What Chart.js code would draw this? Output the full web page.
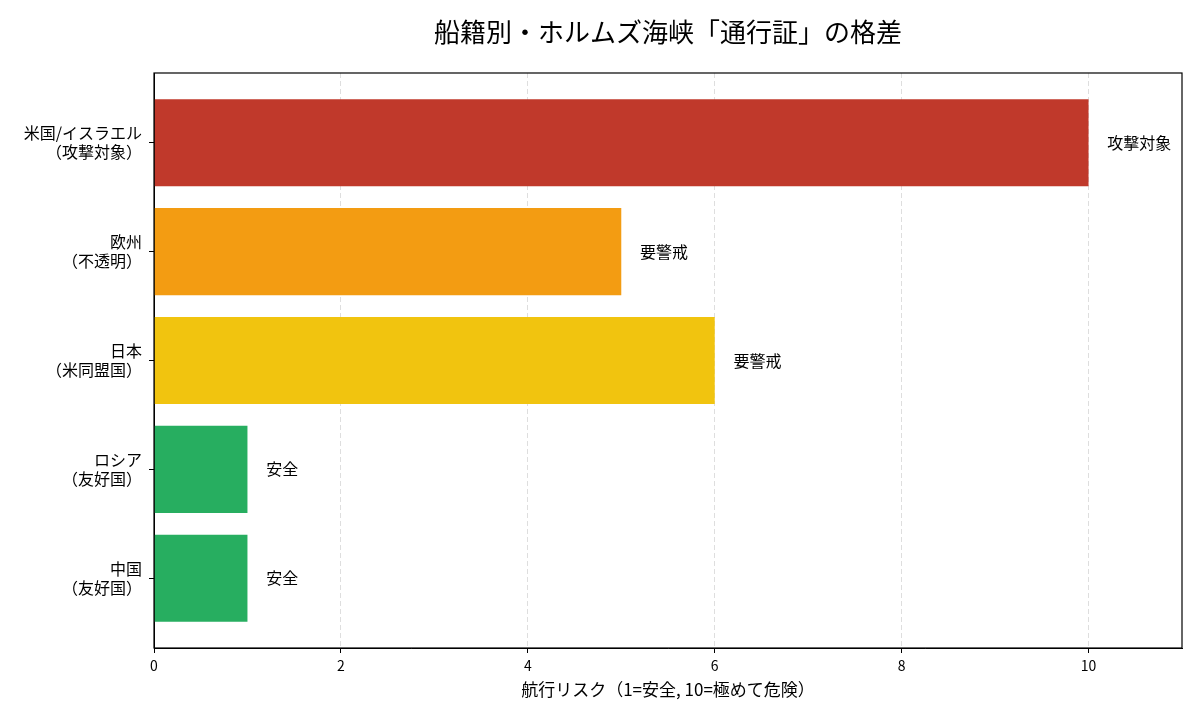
<!DOCTYPE html>
<html lang="ja">
<head>
<meta charset="utf-8">
<title>船籍別・ホルムズ海峡「通行証」の格差</title>
<script src="https://cdn.jsdelivr.net/npm/chart.js@4.4.1/dist/chart.umd.min.js"></script>
<style>
  html, body { margin: 0; padding: 0; background: #ffffff; }
  #wrap { width: 1200px; height: 720px; position: relative; }
</style>
</head>
<body>
<div id="wrap"><canvas id="grafico"></canvas></div>
<script>
// datos del grafico
const categorias = [
    ["米国/イスラエル", "（攻撃対象）"],
    ["欧州", "（不透明）"],
    ["日本", "（米同盟国）"],
    ["ロシア", "（友好国）"],
    ["中国", "（友好国）"]
];
const riesgos = [10, 5, 6, 1, 1];
const etiquetasBarra = ["攻撃対象", "要警戒", "要警戒", "安全", "安全"];
const colores = ["#c0392b", "#f39c12", "#f1c40f", "#27ae60", "#27ae60"];
const ticksX = [0, 2, 4, 6, 8, 10];

const titulo = "船籍別・ホルムズ海峡「通行証」の格差";
const tituloX = "航行リスク（1=安全, 10=極めて危険）";
const fuente = '"Noto Sans CJK JP", "Noto Sans", sans-serif';

/*
    textos: titulo, titulo del eje x, etiquetas al final de cada barra y marco
*/
const pluginTextos = {
    id: 'textos',
    afterDatasetsDraw(chart) {
        const ctx = chart.ctx;
        const xs = chart.scales.x;
        const meta = chart.getDatasetMeta(0);
        ctx.save();
        ctx.fillStyle = '#000';
        ctx.font = '16px ' + fuente;
        ctx.textAlign = 'left';
        ctx.textBaseline = 'middle';
        meta.data.forEach((barra, i) => {
            ctx.fillText(etiquetasBarra[i], xs.getPixelForValue(riesgos[i] + 0.2), barra.y);
        });
        ctx.restore();
    },
    afterDraw(chart) {
        const ctx = chart.ctx;
        const a = chart.chartArea;
        ctx.save();
        ctx.strokeStyle = '#000';
        ctx.lineWidth = 1.2;
        ctx.strokeRect(a.left, a.top, a.right - a.left, a.bottom - a.top);
        ctx.fillStyle = '#000';
        ctx.textAlign = 'center';
        ctx.textBaseline = 'middle';
        ctx.font = '26px ' + fuente;
        ctx.fillText(titulo, (a.left + a.right) / 2, 32);
        ctx.font = '17px ' + fuente;
        ctx.fillText(tituloX, (a.left + a.right) / 2, 690);
        ctx.restore();
    }
};

let grafico = document.getElementById('grafico');
let myChart = new Chart(grafico, {
    type: 'bar',
    data: {
        datasets: [{
            data: riesgos.map((v, i) => ({ x: v, y: i })),
            backgroundColor: colores,
            borderWidth: 0,
            categoryPercentage: 1,
            barPercentage: 0.8
        }]
    },
    options: {
        indexAxis: 'y',
        responsive: true,
        maintainAspectRatio: false,
        animation: false,
        devicePixelRatio: 1,
        layout: { padding: { left: 0, right: 18, top: 73, bottom: 0 } },
        plugins: {
            legend: { display: false },
            tooltip: { enabled: false }
        },
        scales: {
            x: {
                type: 'linear',
                min: 0,
                max: 11,
                afterBuildTicks: (s) => { s.ticks = ticksX.map(v => ({ value: v })); },
                afterFit: (s) => { s.height = 72; },
                ticks: { color: '#000', font: { size: 14, family: fuente }, padding: 4, maxRotation: 0 },
                grid: { color: 'rgba(0,0,0,0.13)', tickColor: '#000', tickLength: 5, lineWidth: 1 },
                border: { color: '#000', dash: [5, 3] }
            },
            y: {
                type: 'linear',
                reverse: true,
                offset: false,
                min: -0.64,
                max: 4.64,
                afterBuildTicks: (s) => { s.ticks = categorias.map((c, i) => ({ value: i })); },
                afterFit: (s) => { s.width = 154; },
                ticks: {
                    color: '#000',
                    font: { size: 16, family: fuente },
                    padding: 7,
                    callback: (v) => categorias[v]
                },
                grid: { offset: false, drawOnChartArea: false, tickColor: '#000', tickLength: 5 },
                border: { color: '#000' }
            }
        }
    },
    plugins: [pluginTextos]
});
</script>
</body>
</html>
